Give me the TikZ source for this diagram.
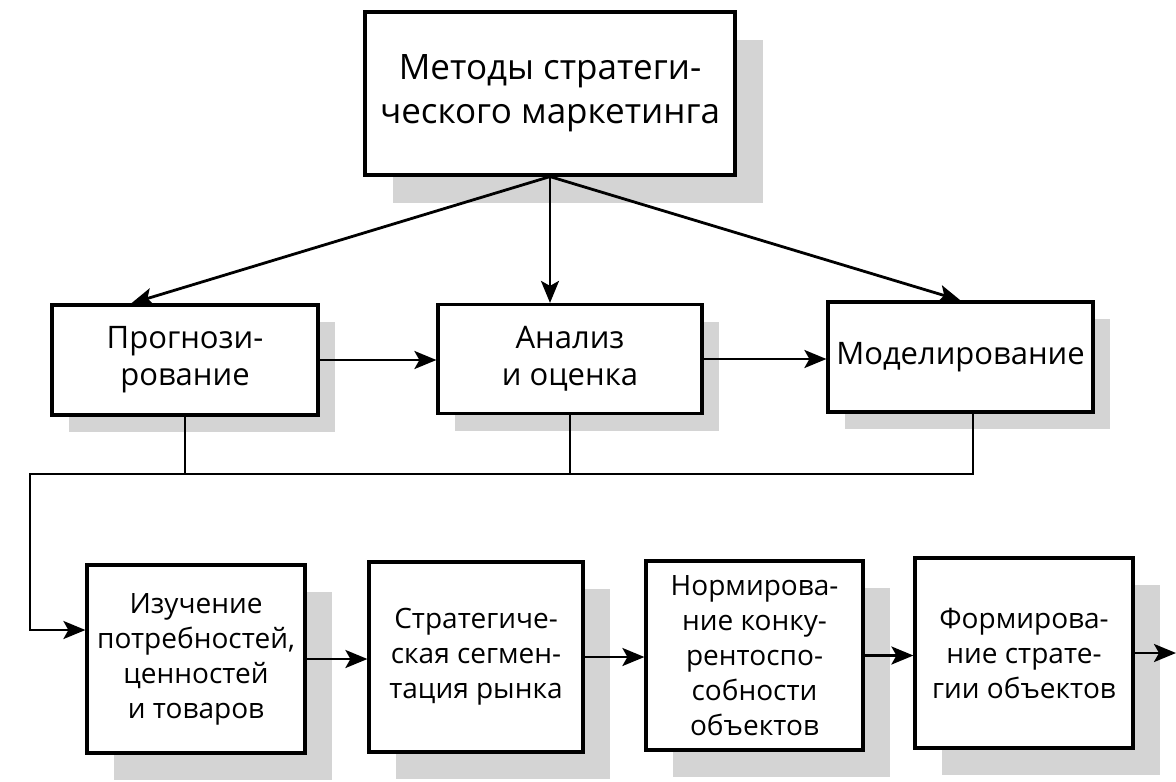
\documentclass[tikz,border=0pt]{standalone}
\usepackage{fontspec}
\setmainfont{Open Sans}
\usetikzlibrary{arrows.meta,positioning,calc,shadows}
\tikzset{
  box/.style={draw=black, fill=white, line width=1.6pt, align=center, inner sep=2pt},
  shd/.style={drop shadow={shadow xshift=#1, shadow yshift=-#1, fill=black!17, opacity=1}},
  topfont/.style={font=\fontsize{17.5}{22}\selectfont},
  midfont/.style={font=\fontsize{15.5}{18.5}\selectfont},
  lowfont/.style={font=\fontsize{14}{17.5}\selectfont},
  line/.style={line width=1.4pt},
  arrow/.style={-{Stealth[length=11pt, width=9pt, inset=2.5pt]}, line width=1.4pt},
}

\begin{document}
\begin{tikzpicture}[x=0.5pt,y=-0.5pt]
  \useasboundingbox[fill=white] (0,0) rectangle (1176,781);

  \node[box, shd=14pt, topfont, minimum width=185pt, minimum height=81.5pt] (meth) at (550,93.5)
    {Методы стратеги-\\ческого маркетинга};

  \node[box, shd=8.5pt, midfont, minimum width=133pt, minimum height=55pt] (prog) at (185,360)
    {Прогнози-\\рование};
  \node[box, shd=8.5pt, midfont, minimum width=132pt, minimum height=54.5pt] (anal) at (570,359)
    {Анализ\\и оценка};
  \node[box, shd=8.5pt, midfont, minimum width=132.5pt, minimum height=55pt] (model) at (960.5,357)
    {Моделирование};

  \node[box, shd=13.5pt, lowfont, minimum width=109pt, minimum height=94pt] (stA) at (196,659)
    {Изучение\\потребностей,\\ценностей\\и товаров};
  \node[box, shd=13.5pt, lowfont, minimum width=107pt, minimum height=95pt] (stB) at (476,657)
    {Стратегиче-\\ская сегмен-\\тация рынка};
  \node[box, shd=13.5pt, lowfont, minimum width=108.5pt, minimum height=94.5pt] (stC) at (754.5,655.5)
    {Нормирова-\\ние конку-\\рентоспо-\\собности\\объектов};
  \node[box, shd=13.5pt, lowfont, minimum width=109pt, minimum height=95pt] (stD) at (1024,653)
    {Формирова-\\ние страте-\\гии объектов};

  \coordinate (bus) at (30,474);
  \coordinate (entry) at (30,630);
  \coordinate (drop) at (973,474);
  \coordinate (out) at (1176,657);

  \draw[arrow] (meth.south) -- ($(prog.north west)!0.3!(prog.north east)$);
  \draw[arrow] (meth.south) -- (meth.south |- anal.north);
  \draw[arrow] (meth.south) -- (model.north);

  \draw[arrow] (prog.east) -- (prog.east -| anal.west);
  \draw[arrow] (anal.east) -- (anal.east -| model.west);

  \draw[line] (anal.south) -- (anal.south |- bus);
  \draw[line] (drop |- model.south) -- (drop) -- (bus);
  \draw[arrow] (prog.south) |- (bus) -- (entry) -- (entry -| stA.west);

  \draw[arrow] (stA.east) -- (stA.east -| stB.west);
  \draw[arrow] (stB.east) -- (stB.east -| stC.west);
  \draw[arrow] (stC.east) -- (stC.east -| stD.west);
  \draw[arrow] (stD.east) -- (stD.east -| out);
\end{tikzpicture}
\end{document}
